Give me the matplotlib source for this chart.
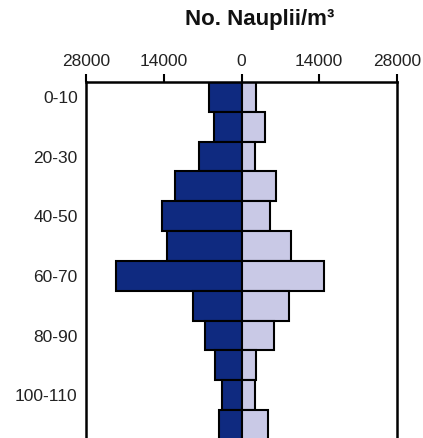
import matplotlib
matplotlib.use("Agg")
import matplotlib.pyplot as plt
import numpy as np

plt.rcParams['font.family'] = ['Liberation Sans', 'DejaVu Sans']

depths = ["0-10", "10-20", "20-30", "30-40", "40-50", "50-60",
          "60-70", "70-80", "80-90", "90-100", "100-110", "110-120"]
left_vals = [5900, 5000, 7700, 11900, 14300, 13400, 22600, 8700, 6500, 4800, 3600, 4000]
right_vals = [2700, 4200, 2400, 6300, 5200, 9000, 14900, 8500, 5800, 2700, 2500, 4800]
xticks = [-28000, -14000, 0, 14000, 28000]
xticklabels = ["28000", "14000", "0", "14000", "28000"]
title = "No. Nauplii/m\u00b3"

navy = "#0f2a80"
light = "#c9c9e6"

fig = plt.figure(figsize=(4.23, 4.38), dpi=100)
ax = fig.add_axes([86/423, -2/438, (397-86)/423, (82+2)/438 + 0.0])
# set proper height: top at y=82px
ax.set_position([86/423, 1 - 440/438, (397-86)/423, (440-82)/438])

y = np.arange(len(depths)) + 0.5
ax.barh(y, [-v for v in left_vals], height=1.0, color=navy, edgecolor="black", linewidth=1.5)
ax.barh(y, right_vals, height=1.0, color=light, edgecolor="black", linewidth=1.5)

ax.set_xlim(-28000, 28000)
ax.set_ylim(len(depths), 0)

ax.xaxis.tick_top()
ax.set_xticks(xticks)
ax.set_xticklabels(xticklabels, fontsize=12.5, color="#222222")
ax.tick_params(axis='x', length=6, width=1.5, pad=3, direction='out')

ax.set_yticks(y[::2])
ax.set_yticklabels(depths[::2], fontsize=12.5, color="#222222")
ax.tick_params(axis='y', length=0, pad=6)

for s in ax.spines.values():
    s.set_linewidth(1.8)
ax.spines['bottom'].set_visible(False)

fig.text(260/423, 1 - 20/438, title, ha='center', va='center',
         fontsize=16, fontweight='bold', color="#111111")

fig.savefig("out.png", dpi=100)
